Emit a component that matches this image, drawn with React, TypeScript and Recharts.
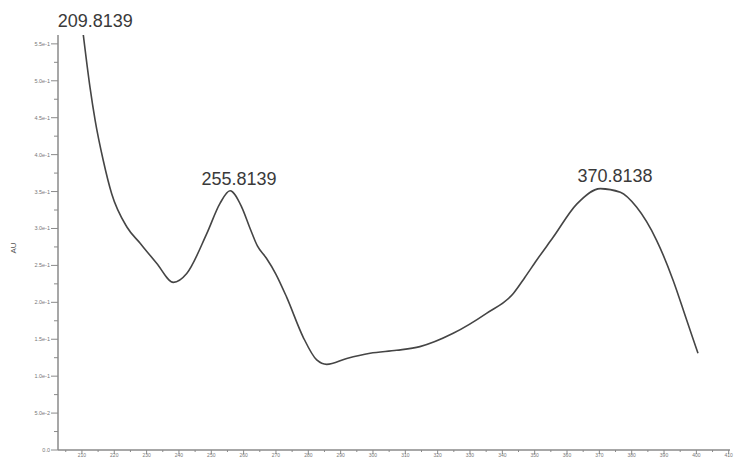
import { LineChart, Line, XAxis, YAxis, ReferenceDot } from "recharts";

// wavelength (nm) / absorbance
const wavelengths = [
  210.4, 212.5, 214.1, 216.6, 219.2, 223.9, 228.0, 233.1, 238.3, 242.4,
  248.6, 252.7, 255.8, 259.4, 262.0, 264.3, 267.0, 270.0, 273.3, 278.4,
  282.6, 285.7, 291.9, 299.1, 307.3, 314.5, 324.8, 335.1, 343.4, 347.0,
  350.6, 355.7, 363.0, 370.3, 376.5, 381.5, 387.7, 392.8, 397.0, 400.5,
];
const absorbance = [
  0.563, 0.491, 0.446, 0.392, 0.347, 0.302, 0.280, 0.253, 0.227, 0.239,
  0.293, 0.334, 0.351, 0.329, 0.300, 0.276, 0.260, 0.238, 0.207, 0.153,
  0.122, 0.116, 0.124, 0.131, 0.135, 0.140, 0.158, 0.185, 0.212, 0.234,
  0.257, 0.288, 0.333, 0.354, 0.349, 0.329, 0.284, 0.230, 0.176, 0.131,
];

const peakWavelengths = [209.8139, 255.8139, 370.8138];
const peakValues = [0.562, 0.351, 0.354];
const peakLabels = ["209.8139", "255.8139", "370.8138"];
const peakShift = [14, 9, 13];
const peakLift = [8, 6, 7];

const xTicks = [
  205, 210, 215, 220, 225, 230, 235, 240, 245, 250, 255, 260, 265, 270, 275,
  280, 285, 290, 295, 300, 305, 310, 315, 320, 325, 330, 335, 340, 345, 350,
  355, 360, 365, 370, 375, 380, 385, 390, 395, 400, 405, 410,
];
const yTicks = [
  0, 0.025, 0.05, 0.075, 0.1, 0.125, 0.15, 0.175, 0.2, 0.225, 0.25, 0.275,
  0.3, 0.325, 0.35, 0.375, 0.4, 0.425, 0.45, 0.475, 0.5, 0.525, 0.55,
];
const yTickLabels = [
  "0.0", "5.0e-2", "1.0e-1", "1.5e-1", "2.0e-1", "2.5e-1",
  "3.0e-1", "3.5e-1", "4.0e-1", "4.5e-1", "5.0e-1", "5.5e-1",
];

const data = wavelengths.map((w, i) => ({ nm: w, au: absorbance[i] }));

const axisColor = "#8a8a8a";

function XTick(props: any) {
  const { x, y, payload } = props;
  const v = Math.round(payload.value);
  const major = v % 10 === 0;
  return (
    <g>
      <line x1={x} x2={x} y1={y} y2={y + (major ? 4 : 2)} stroke={axisColor} strokeWidth={1} />
      {major && (
        <text x={x} y={y + 6.5} fontSize={5} fill="#777" textAnchor="middle">
          {v}
        </text>
      )}
    </g>
  );
}

function YTick(props: any) {
  const { x, y, payload } = props;
  const idx = Math.round(payload.value / 0.025);
  const major = idx % 2 === 0;
  return (
    <g>
      <line x1={x - (major ? 7 : 4)} x2={x} y1={y} y2={y} stroke={axisColor} strokeWidth={1} />
      {major && (
        <text x={x - 8} y={y + 2} fontSize={5.5} fill="#777" textAnchor="end">
          {yTickLabels[idx / 2]}
        </text>
      )}
    </g>
  );
}

export default function App() {
  return (
    <div style={{ width: 734, height: 457, background: "#fff" }}>
      <style>{"body{margin:0}"}</style>
      <LineChart
        width={734}
        height={457}
        data={data}
        margin={{ top: 35, right: 4, bottom: 0, left: 0 }}
        style={{ fontFamily: "'Liberation Sans', Arial, sans-serif" }}
      >
        <XAxis
          dataKey="nm"
          type="number"
          domain={[202.6, 410.4]}
          ticks={xTicks}
          interval={0}
          height={7}
          tickSize={0}
          tickMargin={0}
          tick={<XTick />}
          stroke={axisColor}
          strokeWidth={1.5}
          allowDataOverflow
        />
        <YAxis
          type="number"
          domain={[0, 0.562]}
          ticks={yTicks}
          interval={0}
          width={58}
          tickSize={0}
          tickMargin={0}
          tick={<YTick />}
          stroke={axisColor}
          strokeWidth={1.5}
          allowDataOverflow
          label={{
            content: () => (
              <text x={16} y={248} fontSize={8} fill="#555" textAnchor="middle" transform="rotate(-90 16 248)">
                AU
              </text>
            ),
          }}
        />
        <Line
          type="monotone"
          dataKey="au"
          stroke="#454545"
          strokeWidth={1.6}
          dot={false}
          isAnimationActive={false}
        />
        {peakWavelengths.map((w, i) => (
          <ReferenceDot
            key={peakLabels[i]}
            x={w}
            y={peakValues[i]}
            r={1}
            fill="none"
            stroke="none"
            ifOverflow="visible"
            label={{
              content: (p: any) => {
                const vb = p.viewBox || {};
                const cx = (vb.x ?? 0) + (vb.width ?? 0) / 2;
                const cy = (vb.y ?? 0) + (vb.height ?? 0) / 2;
                return (
                  <text
                    x={cx + peakShift[i]}
                    y={cy - peakLift[i]}
                    fontSize={18}
                    fill="#3a3a3a"
                    textAnchor="middle"
                  >
                    {peakLabels[i]}
                  </text>
                );
              },
            }}
          />
        ))}
      </LineChart>
    </div>
  );
}
